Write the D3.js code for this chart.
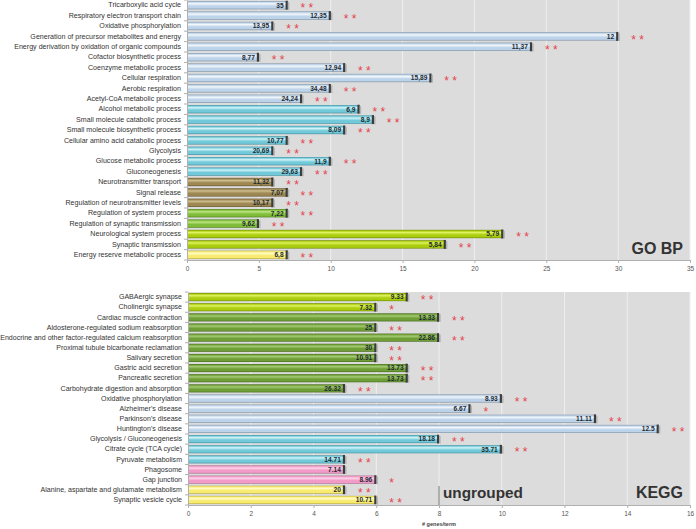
<!DOCTYPE html>
<html><head><meta charset="utf-8">
<script src="https://cdn.jsdelivr.net/npm/d3@7"></script>
<style>body{margin:0;background:#fff}svg{display:block}text{font-family:"Liberation Sans",Arial,sans-serif}</style>
</head><body>
<svg id="c" width="696" height="529"></svg>
<script>
// ---- GO BP data ----
const goLabels = ["Tricarboxylic acid cycle","Respiratory electron transport chain","Oxidative phosphorylation","Generation of precursor metabolites and energy","Energy derivation by oxidation of organic compounds","Cofactor biosynthetic process","Coenzyme metabolic process","Cellular respiration","Aerobic respiration","Acetyl-CoA metabolic process","Alcohol metabolic process","Small molecule catabolic process","Small molecule biosynthetic process","Cellular amino acid catabolic process","Glycolysis","Glucose metabolic process","Gluconeogenesis","Neurotransmitter transport","Signal release","Regulation of neurotransmitter levels","Regulation of system process","Regulation of synaptic transmission","Neurological system process","Synaptic transmission","Energy reserve metabolic process"];
const goValues = [7,10,6,30,24,5,11,17,10,8,12,13,11,7,6,10,8,6,7,6,7,5,22,18,7];
const goPct = ["35","12,35","13,95","12","11,37","8,77","12,94","15,89","34,48","24,24","6,9","8,9","8,09","10,77","20,69","11,9","29,63","11,32","7,07","10,17","7,22","9,62","5,79","5,84","6,8"];
const goStars = ["**","**","**","**","**","**","**","**","**","**","**","**","**","**","**","**","**","**","**","**","**","**","**","**","**"];
const goGroups = ["blue","blue","blue","blue","blue","blue","blue","blue","blue","blue","cyan","cyan","cyan","cyan","cyan","cyan","cyan","brown","brown","brown","green","green","lime","lime","yellow"];
const goTicks = [0,5,10,15,20,25,30,35];

// ---- KEGG data ----
const keggLabels = ["GABAergic synapse","Cholinergic synapse","Cardiac muscle contraction","Aldosterone-regulated sodium reabsorption","Endocrine and other factor-regulated calcium reabsorption","Proximal tubule bicarbonate reclamation","Salivary secretion","Gastric acid secretion","Pancreatic secretion","Carbohydrate digestion and absorption","Oxidative phosphorylation","Alzheimer's disease","Parkinson's disease","Huntington's disease","Glycolysis / Gluconeogenesis","Citrate cycle (TCA cycle)","Pyruvate metabolism","Phagosome","Gap junction","Alanine, aspartate and glutamate metabolism","Synaptic vesicle cycle"];
const keggValues = [7,6,8,6,8,6,6,7,7,5,10,9,13,15,8,10,5,5,6,5,6];
const keggPct = ["9.33","7.32","13.33","25","22.86","30","10.91","13.73","13.73","26.32","8.93","6.67","11.11","12.5","18.18","35.71","14.71","7.14","8.96","20","10.71"];
const keggStars = ["**","*","**","**","**","**","**","**","**","**","**","*","**","**","**","**","**","","*","**","**"];
const keggGroups = ["lime","lime","olive","olive","olive","olive","olive","olive","olive","olive","blue","blue","blue","blue","cyan","cyan","cyan","pink","pink","yellow","yellow"];
const keggTicks = [0,2,4,6,8,10,12,14,16];

const palette = {
  blue:  {d:"#7d90a3", h:"#f2f7fc", m:"#bdd3e9"},
  cyan:  {d:"#3f8e9d", h:"#d2f3f8", m:"#72c9d9"},
  brown: {d:"#66552f", h:"#cdbd8e", m:"#9d8752"},
  green: {d:"#4b7d1b", h:"#bde485", m:"#7fbd38"},
  lime:  {d:"#6b8705", h:"#dff260", m:"#abcd10"},
  olive: {d:"#46691f", h:"#a4cb74", m:"#6f9e37"},
  pink:  {d:"#a86588", h:"#fcd6ea", m:"#f29bc9"},
  yellow:{d:"#b3a743", h:"#fffcc8", m:"#f8eb70"}
};

const svg = d3.select("#c");
const defs = svg.append("defs");
Object.entries(palette).forEach(([k,c])=>{
  const g = defs.append("linearGradient").attr("id","g_"+k).attr("x1",0).attr("x2",0).attr("y1",0).attr("y2",1);
  [[0,c.d],[0.12,c.m],[0.32,c.h],[0.6,c.m],[0.85,c.m],[1,c.d]].forEach(([o,col])=>g.append("stop").attr("offset",o).attr("stop-color",col));
});

function panel(o){
  const x = d3.scaleLinear().domain([0,o.max]).range([o.x0,o.x1]);
  const y = d3.scaleBand().domain(o.labels).range([o.y0,o.y1]).paddingInner(0.2).paddingOuter(0.1);
  const g = svg.append("g");
  g.append("rect").attr("x",o.x0).attr("y",o.y0).attr("width",o.x1-o.x0).attr("height",o.y1-o.y0).attr("fill","#dcdcdc");
  g.selectAll(".grid").data(o.ticks.slice(1)).join("line")
    .attr("x1",d=>x(d)).attr("x2",d=>x(d)).attr("y1",o.y0).attr("y2",o.y1)
    .attr("stroke","#efefef").attr("stroke-width",1);
  const xa = g.append("g").attr("transform",`translate(0,${o.y1})`)
    .call(d3.axisBottom(x).tickValues(o.ticks).tickSize(3).tickPadding(3));
  xa.select(".domain").attr("stroke","#b0b0b0");
  xa.selectAll(".tick line").attr("stroke","#b0b0b0");
  xa.selectAll("text").attr("fill","#555").attr("font-size",6.5);
  const ya = g.append("g").attr("transform",`translate(${o.x0},0)`)
    .call(d3.axisLeft(y).tickSize(0).tickPadding(6));
  ya.select(".domain").attr("stroke","#b0b0b0");
  ya.selectAll("text").attr("fill","#333").attr("font-size",o.fs);
  const bd = y.step();
  g.selectAll(".yt").data(d3.range(o.labels.length+1)).join("line")
    .attr("x1",o.x0-3).attr("x2",o.x0).attr("y1",i=>o.y0+i*bd).attr("y2",i=>o.y0+i*bd)
    .attr("stroke","#b0b0b0");
  const data = o.labels.map((l,i)=>({l,v:o.values[i],p:o.pct[i],s:o.stars[i],g:o.groups[i]}));
  const bars = g.selectAll(".bar").data(data).join("g");
  bars.append("rect").attr("x",x(0)+1).attr("y",d=>y(d.l)).attr("height",y.bandwidth())
    .attr("width",d=>x(d.v)-x(0)-1).attr("fill",d=>`url(#g_${d.g})`);
  bars.append("rect").attr("x",d=>x(d.v)-2).attr("y",d=>y(d.l)-0.3).attr("height",y.bandwidth()+0.6)
    .attr("width",2.2).attr("fill","#3c3c3c");
  bars.append("rect").attr("x",d=>x(d.v)+0.2).attr("y",d=>y(d.l)+1).attr("height",y.bandwidth()-0.5)
    .attr("width",1.5).attr("fill","#9a9a9a").attr("opacity",0.6);
  bars.append("text").attr("x",d=>x(d.v)-4).attr("y",d=>y(d.l)+y.bandwidth()/2)
    .attr("dy","0.36em").attr("text-anchor","end").attr("font-size",6.6).attr("font-weight","bold")
    .attr("fill","#1e2a30").text(d=>d.p);
  bars.append("text").attr("x",d=>x(d.v)+13).attr("y",d=>y(d.l)+y.bandwidth()/2)
    .attr("dy","0.6em").attr("font-size",12).attr("fill","#e4434d")
    .text(d=>d.s.split("").join(" "));
  return {x,y,g};
}

const goPanel = panel({labels:goLabels,values:goValues,pct:goPct,stars:goStars,groups:goGroups,ticks:goTicks,max:35,
  x0:187,x1:690,y0:0,y1:260,fs:7.1});
goPanel.g.append("text").attr("x",683).attr("y",254).attr("text-anchor","end").attr("font-size",16)
  .attr("font-weight","bold").attr("fill","#333").text("GO BP");

const keggPanel = panel({labels:keggLabels,values:keggValues,pct:keggPct,stars:keggStars,groups:keggGroups,ticks:keggTicks,max:16,
  x0:188,x1:690,y0:292,y1:505,fs:7.05});
keggPanel.g.append("line").attr("x1",keggPanel.x(8)).attr("x2",keggPanel.x(8)).attr("y1",486).attr("y2",505)
  .attr("stroke","#777").attr("stroke-width",1);
keggPanel.g.append("text").attr("x",keggPanel.x(8)+4).attr("y",498).attr("font-size",15.3)
  .attr("font-weight","bold").attr("fill","#333").text("ungrouped");
keggPanel.g.append("text").attr("x",683).attr("y",498).attr("text-anchor","end").attr("font-size",16)
  .attr("font-weight","bold").attr("fill","#333").text("KEGG");
keggPanel.g.append("text").attr("x",(keggPanel.x(0)+keggPanel.x(16))/2).attr("y",526).attr("text-anchor","middle")
  .attr("font-size",5.5).attr("font-weight","bold").attr("fill","#444").text("# genes/term");
</script>
</body></html>
